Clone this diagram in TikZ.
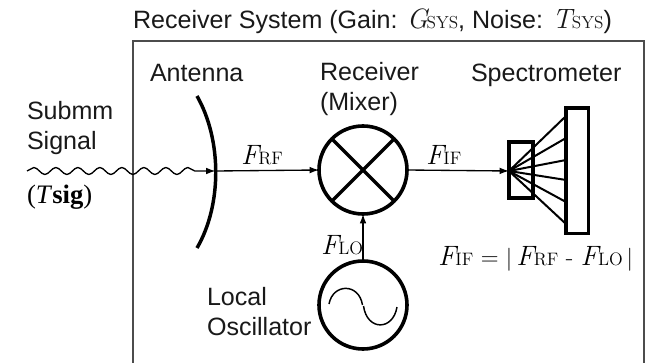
\documentclass[tikz,border=0pt]{standalone}
\usepackage{fontspec}
\setmainfont{Liberation Sans}
\newfontfamily\lmfont{Latin Modern Roman}
\newfontfamily\timesfont{Liberation Serif}
\usetikzlibrary{
  positioning,
  arrows.meta,
  decorations.pathmorphing
}
\newcommand{\fsym}[2]{{\lmfont{\fontsize{21}{21}\selectfont\textit{#1}}\kern-2pt{\fontsize{13.5}{13.5}\selectfont #2}}}
\newcommand{\ssym}[1]{{\lmfont{\fontsize{21}{21}\selectfont\textit{#1}}\kern-2pt{\fontsize{13}{13}\selectfont SYS}}}
\tikzset{
  x=.75pt, y=-.75pt,
  >={Latex[length=7pt,width=5pt]},
  every node/.style={inner sep=0pt, outer sep=0pt},
  label/.style={font=\fontsize{18.8}{23}\selectfont, align=left, text=black!90},
  eqn/.style={font=\fontsize{18.5}{18.5}\selectfont\lmfont},
  round/.style={circle, draw, line width=2.7pt, minimum size=66pt},
  thin line/.style={line width=1pt},
  thick line/.style={line width=2.6pt},
  spec box/.style={draw, line width=2.6pt, anchor=north west},
  frame/.style={draw=black!70, line width=1.1pt}
}

\begin{document}
\begin{tikzpicture}
    \useasboundingbox (0,0) rectangle (648,363);
    \draw[frame] (133,363) -- (133,41) -- (644,41) -- (644,363);

    \node[round] (mixer) at (363,170) {};
    \node[round] (osc) at (363,305) {};
    \node[spec box, minimum width=18pt, minimum height=42pt] (ifbox) at (509,142) {};
    \node[spec box, minimum width=17pt, minimum height=94pt] (bank) at (566,108) {};

    \coordinate (src) at (27,171);
    \coordinate (anttop) at (197,96);
    \coordinate (antbot) at (197,248);
    \coordinate (ant) at (215.5,171);
    \coordinate (fan) at (509,171);

    % antenna and mixer
    \draw[thick line] (anttop) .. controls (222,140) and (222,205) .. (antbot);
    \draw[thick line] (mixer.45) -- (mixer.225);
    \draw[thick line] (mixer.135) -- (mixer.315);

    % signal path
    \draw[thin line, decorate, decoration={snake, amplitude=2.6pt, segment length=16.5pt, post length=8pt}, ->] (src) -- (ant);
    \draw[thin line, ->] (ant) -- (mixer.west);
    \draw[thin line, ->] (mixer.east) -- (fan);
    \draw[thin line, ->] (osc.north) -- (mixer.south);

    % spectrometer fan
    \foreach \ypos in {116,138,160,180,202,224}
      \draw[line width=1.5pt] (fan) -- (bank.west |- 0,\ypos);

    % oscillator wave
    \draw[line width=1.1pt] (329,304) .. controls (333,283) and (359,283) .. (362.5,305);
    \draw[line width=1.1pt] (363.5,306) .. controls (367,331) and (393,331) .. (397,307);

    % labels
    \node[label, anchor=base west] (title) at (133,29) {Receiver System (Gain: \ssym{G}, Noise: \ssym{T})};
    \node[label, anchor=base west] (antlabel) at (150,82) {Antenna};
    \node[label, anchor=north west] (mixlabel) at (320,62) {Receiver\\(Mixer)};
    \node[label, anchor=base west] (speclabel) at (471,82) {Spectrometer};
    \node[label, anchor=north west] (siglabel) at (27,101) {Submm\\Signal};
    \node[eqn, anchor=base west] (tsig) at (27,204) {\timesfont\fontsize{20}{20}\selectfont(\textit{T}\textbf{sig})};
    \node[eqn, anchor=base west] (frf) at (241,165) {\fsym{F}{RF}};
    \node[eqn, anchor=base west] (fif) at (426,165) {\fsym{F}{IF}};
    \node[eqn, anchor=base west] (flo) at (321,254) {\fsym{F}{LO}};
    \node[eqn, anchor=base west] (formula) at (438,265) {\fsym{F}{IF} = $|$\,\fsym{F}{RF} - \fsym{F}{LO}$\,|$};
    \node[label, anchor=north west] (osclabel) at (207,287) {Local\\Oscillator};
\end{tikzpicture}
\end{document}
